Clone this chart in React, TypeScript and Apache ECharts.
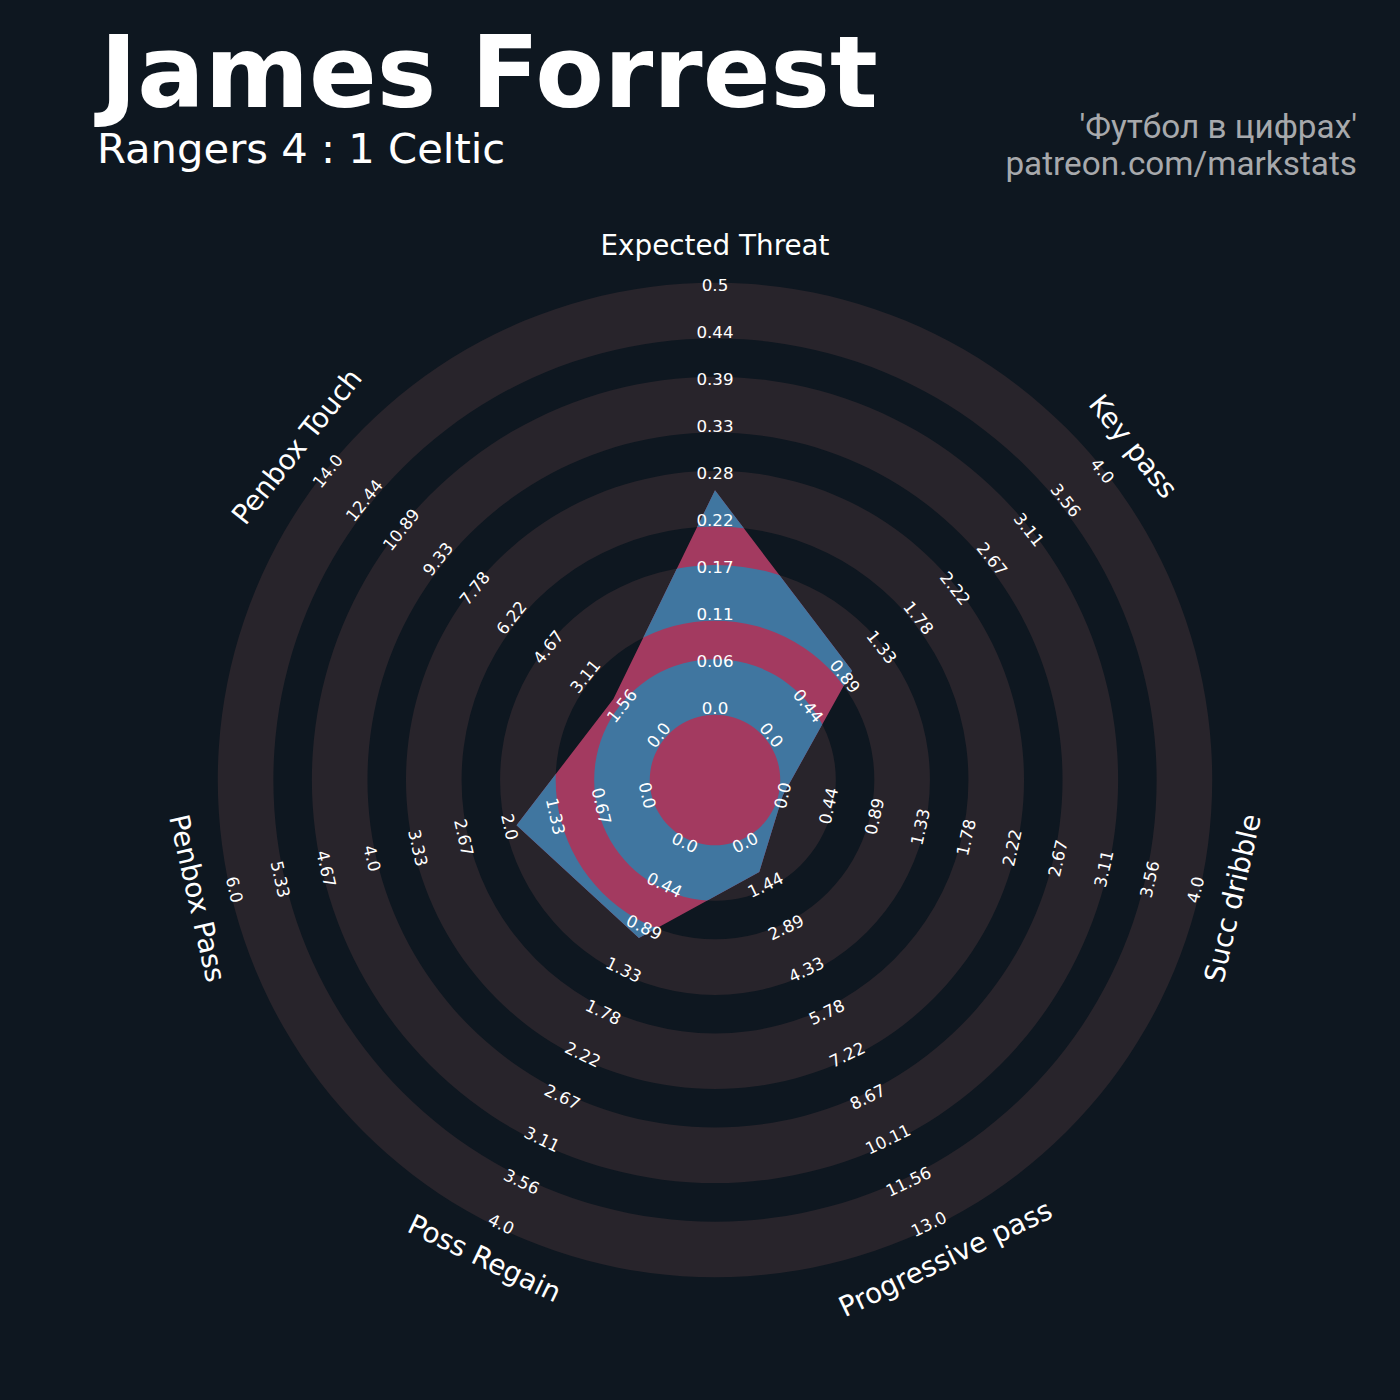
import React, { useEffect, useRef } from 'react';
import * as echarts from 'echarts';

// ---------- data ----------
const TITLE = 'James Forrest';
const SUBTITLE = 'Rangers 4 : 1 Celtic';
const SOURCE_LINES = ["'Футбол в цифрах'", 'patreon.com/markstats'];

const PARAMS = ['Expected Threat', 'Key pass', 'Succ dribble', 'Progressive pass', 'Poss Regain', 'Penbox Pass', 'Penbox Touch'];
const MIN_RANGE = [0, 0, 0, 0, 0, 0, 0];
const MAX_RANGE = [0.5, 4, 4, 13, 4, 6, 14];
const VALUES = [0.26, 1, 0, 1, 1, 1.9, 2];

const TICKS_XT = ['0.0', '0.06', '0.11', '0.17', '0.22', '0.28', '0.33', '0.39', '0.44', '0.5'];
const TICKS_KEY_PASS = ['0.0', '0.44', '0.89', '1.33', '1.78', '2.22', '2.67', '3.11', '3.56', '4.0'];
const TICKS_DRIBBLE = ['0.0', '0.44', '0.89', '1.33', '1.78', '2.22', '2.67', '3.11', '3.56', '4.0'];
const TICKS_PROG_PASS = ['0.0', '1.44', '2.89', '4.33', '5.78', '7.22', '8.67', '10.11', '11.56', '13.0'];
const TICKS_REGAIN = ['0.0', '0.44', '0.89', '1.33', '1.78', '2.22', '2.67', '3.11', '3.56', '4.0'];
const TICKS_PB_PASS = ['0.0', '0.67', '1.33', '2.0', '2.67', '3.33', '4.0', '4.67', '5.33', '6.0'];
const TICKS_PB_TOUCH = ['0.0', '1.56', '3.11', '4.67', '6.22', '7.78', '9.33', '10.89', '12.44', '14.0'];
const TICK_LABELS = [TICKS_XT, TICKS_KEY_PASS, TICKS_DRIBBLE, TICKS_PROG_PASS, TICKS_REGAIN, TICKS_PB_PASS, TICKS_PB_TOUCH];

// ---------- layout / style ----------
const W = 1400;
const H = 1400;
const CX = 715;
const CY = 780;
const CENTER_RADIUS = 69.5;
const RING_UNIT = 47.05;
const NUM_RINGS = 9;
const GREY_HALF = 27.8;
const LABEL_SHIFT = 1;
const PARAM_LABEL_R = 533;
const RANGE_FS = 16.7;
const PARAM_FS = 27.8;

const BG = '#0e1720';
const GREY = '#28242b';
const BLUE = '#4076a0';
const PINK = '#a33a60';
const TEXT = '#ffffff';
const SOURCE_COLOR = '#a7a9ac';
const FONT = 'DejaVu Sans';

const N = PARAMS.length;
const theta = (i: number) => (i * 2 * Math.PI) / N;
const radiusOf = (i: number, v: number) =>
  CENTER_RADIUS + ((v - MIN_RANGE[i]) / (MAX_RANGE[i] - MIN_RANGE[i])) * NUM_RINGS * RING_UNIT;
const xyOf = (i: number, r: number) => [r * Math.sin(theta(i)), r * Math.cos(theta(i))];
const rotOf = (i: number) => {
  const deg = (theta(i) * 180) / Math.PI;
  const r = deg <= 90 || deg >= 270 ? -deg : 180 - deg;
  return (r * Math.PI) / 180;
};

const pxRadius = (api: any, r: number) => {
  const c = api.coord([0, 0]);
  return api.coord([r, 0])[0] - c[0];
};

export default function App() {
  const ref = useRef<HTMLDivElement>(null);

  useEffect(() => {
    document.body.style.margin = '0';
    document.body.style.background = BG;
    const chart = echarts.init(ref.current as HTMLDivElement, null, { renderer: 'svg' });

    const ringData = [0, 1, 2, 3, 4].map((j) => [0, 0, j]);
    const labelData: number[][] = [];
    for (let i = 0; i < N; i++) for (let k = 0; k <= NUM_RINGS; k++) labelData.push([0, 0, i, k]);
    const paramData = PARAMS.map((_, i) => [0, 0, i]);

    const option: any = {
      animation: false,
      backgroundColor: BG,
      grid: { left: 0, right: 0, top: 0, bottom: 0 },
      xAxis: { type: 'value', min: -CX, max: W - CX, show: false },
      yAxis: { type: 'value', min: -(H - CY), max: CY, show: false },
      series: [
        {
          type: 'custom',
          name: 'rings',
          coordinateSystem: 'cartesian2d',
          silent: true,
          z: 1,
          data: ringData,
          renderItem: (params: any, api: any) => {
            const j = api.value(2);
            const c = api.coord([0, 0]);
            const mid = CENTER_RADIUS + (2 * j + 0.5) * RING_UNIT;
            return {
              type: 'ring',
              shape: { cx: c[0], cy: c[1], r: pxRadius(api, mid + GREY_HALF), r0: pxRadius(api, mid - GREY_HALF) },
              style: { fill: GREY },
            };
          },
        },
        {
          type: 'custom',
          name: 'radar',
          coordinateSystem: 'cartesian2d',
          silent: true,
          z: 2,
          data: [[0, 0]],
          renderItem: (params: any, api: any) => {
            const c = api.coord([0, 0]);
            const pts = VALUES.map((v, i) => api.coord(xyOf(i, radiusOf(i, v))));
            const children: any[] = [
              { type: 'polygon', shape: { points: pts }, style: { fill: PINK } },
            ];
            for (let j = 0; j < 5; j++) {
              const mid = CENTER_RADIUS + (2 * j + 0.5) * RING_UNIT;
              children.push({
                type: 'ring',
                shape: { cx: c[0], cy: c[1], r: pxRadius(api, mid + GREY_HALF), r0: pxRadius(api, mid - GREY_HALF) },
                style: { fill: BLUE },
                clipPath: { type: 'polygon', shape: { points: pts } },
              });
            }
            return { type: 'group', children };
          },
        },
        {
          type: 'custom',
          name: 'rangeLabels',
          coordinateSystem: 'cartesian2d',
          silent: true,
          z: 3,
          data: labelData,
          renderItem: (params: any, api: any) => {
            const i = api.value(2);
            const k = api.value(3);
            const p = api.coord(xyOf(i, CENTER_RADIUS + LABEL_SHIFT + k * RING_UNIT));
            return {
              type: 'text',
              x: p[0],
              y: p[1],
              rotation: rotOf(i),
              style: {
                text: TICK_LABELS[i][k],
                x: 0,
                y: -0.07 * RANGE_FS,
                fill: TEXT,
                fontSize: RANGE_FS,
                fontFamily: FONT,
                align: 'center',
                verticalAlign: 'middle',
              },
            };
          },
        },
        {
          type: 'custom',
          name: 'paramLabels',
          coordinateSystem: 'cartesian2d',
          silent: true,
          z: 3,
          data: paramData,
          renderItem: (params: any, api: any) => {
            const i = api.value(2);
            const p = api.coord(xyOf(i, PARAM_LABEL_R));
            return {
              type: 'text',
              x: p[0],
              y: p[1],
              rotation: rotOf(i),
              style: {
                text: PARAMS[i],
                x: 0,
                y: -0.07 * PARAM_FS,
                fill: TEXT,
                fontSize: PARAM_FS,
                fontFamily: FONT,
                align: 'center',
                verticalAlign: 'middle',
              },
            };
          },
        },
      ],
      graphic: [
        {
          type: 'text',
          x: 100,
          y: 72,
          style: { text: TITLE, fill: TEXT, fontSize: 100, fontWeight: 'bold', fontFamily: FONT, align: 'left', verticalAlign: 'middle' },
        },
        {
          type: 'text',
          x: 97,
          y: 148,
          style: { text: SUBTITLE, fill: TEXT, fontSize: 41.7, fontFamily: FONT, align: 'left', verticalAlign: 'middle' },
        },
        {
          type: 'text',
          x: 1357,
          y: 126,
          style: { text: SOURCE_LINES[0], fill: SOURCE_COLOR, fontSize: 33.3, fontFamily: 'Roboto', align: 'right', verticalAlign: 'middle' },
        },
        {
          type: 'text',
          x: 1357,
          y: 163,
          style: { text: SOURCE_LINES[1], fill: SOURCE_COLOR, fontSize: 33.3, fontFamily: 'Roboto', align: 'right', verticalAlign: 'middle' },
        },
      ],
    };

    chart.setOption(option);
    return () => chart.dispose();
  }, []);

  return <div ref={ref} style={{ position: 'absolute', left: 0, top: 0, width: W, height: H }} />;
}
